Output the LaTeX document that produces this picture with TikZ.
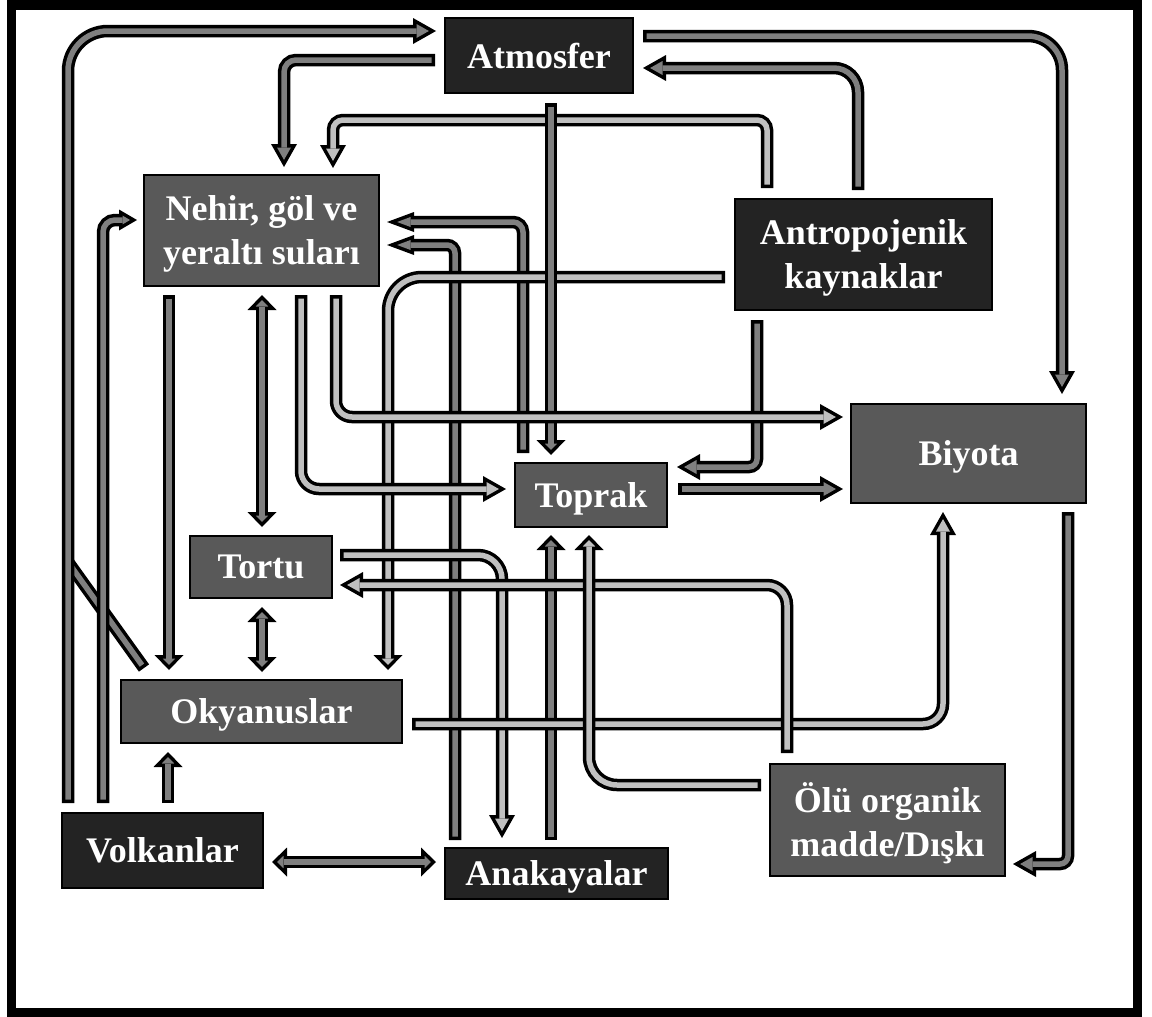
\documentclass[tikz,border=0pt]{standalone}
\usepackage{fontspec}
\setmainfont{Liberation Serif}
\usetikzlibrary{arrows.meta,calc}
\definecolor{boxdark}{HTML}{232323}
\definecolor{boxgray}{HTML}{595959}
\definecolor{pipedark}{HTML}{7F7F7F}
\definecolor{pipelight}{HTML}{C0C0C0}
\tikzset{
  box/.style={draw=black, line width=1.3pt, text=white, align=center, inner sep=0pt, outer sep=0pt,
    text depth=0pt, font=\fontsize{18}{22}\selectfont\bfseries},
  darkbox/.style={box, fill=boxdark},
  graybox/.style={box, fill=boxgray},
  % pipes: black outline under a grey core
  pipe/.style={draw=#1, line width=2.75pt, shorten <=1.75pt, shorten >=1.75pt,
    preaction={draw=black, line width=6.25pt, shorten <=0pt, shorten >=0pt}},
  fat/.style={draw=#1, line width=2.75pt, shorten <=1.75pt, shorten >=3.55pt,
    -{Triangle[length=6.2pt, width=7pt, line width=0pt]},
    preaction={draw=black, line width=6.25pt, shorten <=0pt, shorten >=0pt,
      -{Triangle[length=11.5pt, width=13pt, line width=0pt]}}},
  stub/.style={draw=#1, line width=2.75pt, shorten <=1.75pt, shorten >=2.52pt,
    -{Triangle[length=3.23pt, width=6.24pt, line width=0pt]},
    preaction={draw=black, line width=6.25pt, shorten <=0pt, shorten >=0pt,
      -{Triangle[length=7.5pt, width=14.5pt, line width=0pt]}}},
  stubs/.style={draw=#1, line width=2.75pt, shorten <=2.52pt, shorten >=2.52pt,
    {Triangle[length=3.23pt, width=6.24pt, line width=0pt]}-{Triangle[length=3.23pt, width=6.24pt, line width=0pt]},
    preaction={draw=black, line width=6.25pt, shorten <=0pt, shorten >=0pt,
      {Triangle[length=7.5pt, width=14.5pt, line width=0pt]}-{Triangle[length=7.5pt, width=14.5pt, line width=0pt]}}},
  slim/.style={draw=#1, line width=2.75pt, shorten <=1.75pt, shorten >=5.04pt,
    -{Triangle[length=6.71pt, width=4.97pt, line width=0pt]},
    preaction={draw=black, line width=6.25pt, shorten <=0pt, shorten >=0pt,
      -{Triangle[length=13.5pt, width=10pt, line width=0pt]}}},
  small/.style={draw=#1, line width=2.75pt, shorten <=1.75pt, shorten >=3.47pt,
    -{Triangle[length=3.78pt, width=4.4pt, line width=0pt]},
    preaction={draw=black, line width=6.25pt, shorten <=0pt, shorten >=0pt,
      -{Triangle[length=9pt, width=10.5pt, line width=0pt]}}}
}
\begin{document}
\begin{tikzpicture}[x=0.5pt, y=-0.5pt]
	\useasboundingbox (0,0) rectangle (1152,1017);
	\draw[line width=4.5pt] (11.5,5) rectangle (1137,1012.5);
	
	%%%%% BOXES %%%%%
	\node[darkbox, minimum width=94pt, minimum height=37.5pt] (atmo) at (539,55.5) {Atmosfer};
	\node[graybox, minimum width=117.5pt, minimum height=55.5pt] (nehir) at (261.5,230.5) {Nehir, göl ve\\yeraltı suları};
	\node[darkbox, minimum width=128.5pt, minimum height=55.5pt] (antro) at (863.5,254.5) {Antropojenik\\kaynaklar};
	\node[graybox, minimum width=117.5pt, minimum height=49.5pt] (biyota) at (968.5,453.5) {Biyota};
	\node[graybox, minimum width=76pt, minimum height=32pt] (toprak) at (591,495) {Toprak};
	\node[graybox, minimum width=71pt, minimum height=31pt] (tortu) at (261,567) {Tortu};
	\node[graybox, minimum width=140.5pt, minimum height=31.5pt] (okyanus) at (261.5,711.5) {Okyanuslar};
	\node[darkbox, minimum width=100.5pt, minimum height=37.5pt] (volkan) at (162.5,850.5) {Volkanlar};
	\node[darkbox, minimum width=111.5pt, minimum height=25.5pt] (anakaya) at (556.5,873.5) {Anakayalar};
	\node[graybox, minimum width=117.5pt, minimum height=56pt] (olu) at (887.5,820) {Ölü organik\\madde/Dışkı};
	
	%%%%% LEFT SIDE %%%%%
	\draw[pipe=pipedark] ($(okyanus.north west)+(23,-12)$) -- ($(volkan.north west)+(6,-251)$);
	\draw[fat=pipedark, rounded corners=20pt] ($(volkan.north west)+(6,-10)$) |- ($(atmo.west)+(-9,-24.5)$);
	\draw[small=pipedark, rounded corners=6pt] ($(volkan.north west)+(41,-10)$) |- ($(nehir.west)+(-7,-10.5)$);
	\draw[stub=pipedark] ($(volkan.north west)+(106,-10)$) -- ($(okyanus.south west)+(47,9)$);
	\draw[stub=pipedark] ($(nehir.south west)+(25,9)$) -- ($(okyanus.north west)+(48,-10)$);
	\draw[stubs=pipedark] ($(nehir.south)+(0.5,9)$) -- ($(tortu.north)+(1,-9)$);
	\draw[stubs=pipedark] ($(tortu.south)+(1,9)$) -- ($(okyanus.north)+(0.5,-8)$);
	\draw[stubs=pipedark] ($(volkan.east)+(9,11.5)$) -- ($(anakaya.west)+(-9,-11.5)$);
	
	%%%%% INTO NEHIR FROM BELOW %%%%%
	\draw[slim=pipedark, rounded corners=4pt] ($(anakaya.north west)+(10,-8)$) |- ($(nehir.east)+(8,14.5)$);
	\draw[slim=pipedark, rounded corners=5pt] ($(toprak.north west)+(8,-10)$) |- ($(nehir.east)+(8,-8.5)$);
	
	%%%%% FROM ANTROPOJENIK %%%%%
	\draw[stub=pipelight, rounded corners=17pt] ($(antro.west)+(-10,22.5)$) -| ($(okyanus.north west)+(267,-10)$);
	\draw[fat=pipelight, rounded corners=5pt] ($(antro.north west)+(32,-11)$) |- ($(atmo.south)+(0,27)$) -| ($(nehir.north west)+(189,-7)$);
	
	%%%%% VERTICALS %%%%%
	\draw[stub=pipedark] ($(atmo.south)+(12,10)$) -- ($(toprak.north west)+(36,-8)$);
	\draw[stub=pipedark] ($(anakaya.north west)+(106,-8)$) -- ($(toprak.south west)+(36,8)$);
	\draw[fat=pipedark, rounded corners=4pt] ($(antro.south west)+(22,10)$) |- ($(toprak.east)+(10,-28)$);
	\draw[fat=pipedark, rounded corners=4pt] ($(biyota.south east)+(-18,9)$) |- ($(olu.east)+(8,44)$);
	\draw[fat=pipedark, rounded corners=6pt] ($(atmo.west)+(-10,4.5)$) -| ($(nehir.north west)+(140,-8)$);
	\draw[fat=pipedark, rounded corners=12pt] ($(antro.north west)+(123,-9)$) |- ($(atmo.east)+(10,12.5)$);
	\draw[fat=pipedark, rounded corners=17pt] ($(atmo.east)+(10,-19.5)$) -| ($(biyota.north east)+(-24,-10)$);
	
	%%%%% HORIZONTALS %%%%%
	\draw[fat=pipelight, rounded corners=8pt] ($(nehir.south west)+(192,9)$) |- ($(biyota.west)+(-8,-36.5)$);
	\draw[fat=pipelight, rounded corners=9pt] ($(nehir.south west)+(157,9)$) |- ($(toprak.west)+(-9,-6)$);
	\draw[fat=pipelight, rounded corners=12pt] ($(tortu.east)+(8,-12)$) -| ($(anakaya.north west)+(57,-10)$);
	\draw[fat=pipelight, rounded corners=10pt] ($(okyanus.east)+(10,12.5)$) -| ($(biyota.south west)+(92,9)$);
	\draw[fat=pipelight, rounded corners=10pt] ($(olu.north west)+(17,-11)$) |- ($(tortu.east)+(8,18)$);
	\draw[stub=pipelight, rounded corners=14pt] ($(olu.west)+(-9,-35)$) -| ($(toprak.south west)+(74,8)$);
	\draw[fat=pipedark] ($(toprak.east)+(11,-6)$) -- ($(biyota.west)+(-8,35.5)$);
\end{tikzpicture}
\end{document}
